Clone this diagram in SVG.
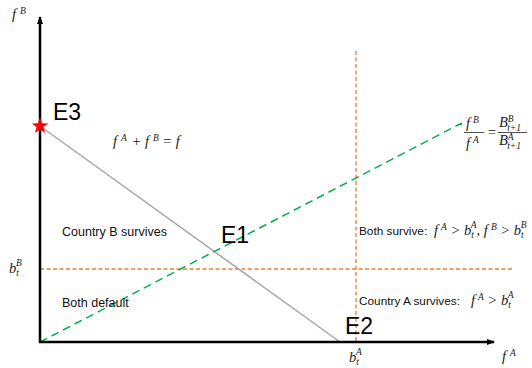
<svg xmlns="http://www.w3.org/2000/svg" width="532" height="368" viewBox="0 0 532 368">
<defs>
<marker id="arr" markerWidth="8" markerHeight="8" refX="7" refY="4" orient="auto" markerUnits="userSpaceOnUse">
<path d="M0,1 L8,4 L0,7 z" fill="#000"/>
</marker>
<style>
.lbl{font-family:"Liberation Sans",Arial,sans-serif;font-size:12.5px;fill:#111}
.lbs{font-family:"Liberation Sans",Arial,sans-serif;font-size:11.8px;fill:#111}
.big{font-family:"Liberation Sans",Arial,sans-serif;font-size:23px;fill:#000}
.m{font-family:"Liberation Serif","Times New Roman",serif;font-style:italic;font-size:14.5px;fill:#222}
.sup{font-size:9.5px}
.axis{stroke:#000;stroke-width:2.5;fill:none}
.org{stroke:#ED7D31;stroke-width:1.3;stroke-dasharray:4,2.5;fill:none}
.grn{stroke:#00B050;stroke-width:1.5;stroke-dasharray:8,5;fill:none}
.gry{stroke:#A6A6A6;stroke-width:1.5;fill:none}
</style>
</defs>
<g id="connectors">
<line class="org" x1="356" y1="51" x2="356" y2="342"/>
<line class="org" x1="40" y1="269" x2="512" y2="269"/>
<line class="gry" x1="40" y1="126" x2="340" y2="342"/>
<line class="grn" x1="40" y1="342" x2="460" y2="124"/>
<circle cx="461" cy="124" r="1.3" fill="#00B050"/>
<line class="axis" x1="40" y1="343" x2="40" y2="17" marker-end="url(#arr)"/>
<line class="axis" x1="39" y1="342" x2="494" y2="342" marker-end="url(#arr)"/>
</g>
<g id="E3">
<polygon points="40,117.5 42.1,123.3 48.2,123.4 43.4,127.1 45.1,133 40,129.5 34.9,133 36.6,127.1 31.8,123.4 37.9,123.3" fill="#FF0000"/>
<text class="big" x="53" y="120">E3</text>
</g>
<g id="E1"><text class="big" x="221" y="243">E1</text></g>
<g id="E2"><text class="big" x="345" y="334">E2</text></g>
<g id="labels">
<text class="m" x="12" y="19">f<tspan class="sup" dx="4" dy="-5">B</tspan></text>
<text class="m" x="502" y="361">f<tspan class="sup" dx="4" dy="-5">A</tspan></text>
<text class="m" x="113" y="146">f<tspan class="sup" dx="4" dy="-5">A</tspan><tspan dx="1" dy="5"> + f</tspan><tspan class="sup" dx="4" dy="-5">B</tspan><tspan dy="5"> = f</tspan></text>
<text class="m" x="466" y="128">f<tspan class="sup" dx="3" dy="-5">B</tspan></text>
<line x1="464" y1="132.5" x2="484" y2="132.5" stroke="#222" stroke-width="0.8"/>
<text class="m" x="466" y="148">f<tspan class="sup" dx="3" dy="-5">A</tspan></text>
<text class="m" x="487" y="137">=</text>
<text class="m" x="499" y="127">B<tspan class="sup" dy="-5">B</tspan><tspan class="sup" dx="-6.5" dy="9">t+1</tspan></text>
<line x1="498" y1="132.5" x2="527" y2="132.5" stroke="#222" stroke-width="0.8"/>
<text class="m" x="499" y="145">B<tspan class="sup" dy="-5">A</tspan><tspan class="sup" dx="-6.5" dy="9">t+1</tspan></text>
<text class="m" x="9" y="273">b<tspan class="sup" dy="3">t</tspan><tspan class="sup" dx="-3" dy="-10">B</tspan></text>
<text class="m" x="349" y="362">b<tspan class="sup" dy="3">t</tspan><tspan class="sup" dx="-3" dy="-10">A</tspan></text>
<text class="lbl" x="62" y="236">Country  B survives</text>
<text class="lbl" x="62" y="307">Both default</text>
<text class="lbs" x="359" y="235">Both survive:</text>
<text class="m" x="434" y="235">f<tspan class="sup" dx="3" dy="-5">A</tspan><tspan dy="5"> &gt; b</tspan><tspan class="sup" dy="3">t</tspan><tspan class="sup" dx="-3" dy="-10">A</tspan><tspan dy="7">, f</tspan><tspan class="sup" dx="3" dy="-5">B</tspan><tspan dy="5"> &gt; b</tspan><tspan class="sup" dy="3">t</tspan><tspan class="sup" dx="-3" dy="-10">B</tspan></text>
<text class="lbs" x="359" y="305">Country A survives:</text>
<text class="m" x="471" y="305">f<tspan class="sup" dx="3" dy="-5">A</tspan><tspan dy="5"> &gt; b</tspan><tspan class="sup" dy="3">t</tspan><tspan class="sup" dx="-3" dy="-10">A</tspan></text>
</g>
</svg>
